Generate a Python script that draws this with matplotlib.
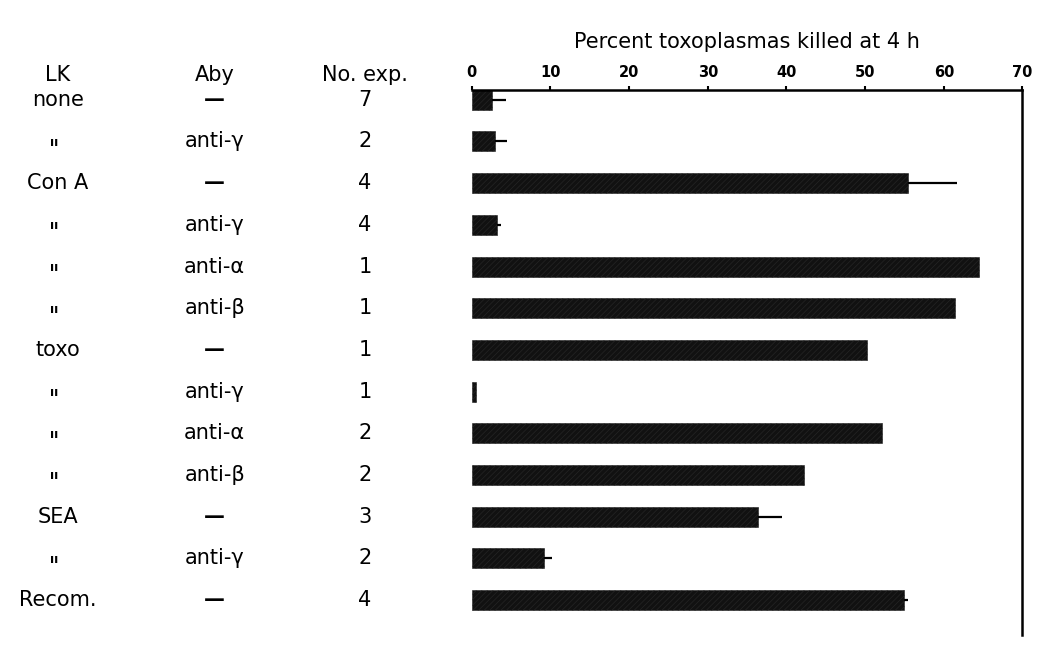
"""
Toxoplasma killing by lymphokine (LK) preparations, with/without antibody.
"""

import matplotlib
matplotlib.use("Agg")
import matplotlib.pyplot as plt
import matplotlib.transforms as mtransforms
import numpy as np

plt.rcParams.update({
    "font.family": "DejaVu Sans",
    "hatch.color": "#6a6a6a",
    "hatch.linewidth": 0.6,
})

# data
lk_labels = ["none", "ıı", "Con A", "ıı", "ıı", "ıı", "toxo",
             "ıı", "ıı", "ıı", "SEA", "ıı", "Recom."]
aby_labels = ["—", "anti-γ", "—", "anti-γ", "anti-α", "anti-β", "—",
              "anti-γ", "anti-α", "anti-β", "—", "anti-γ", "—"]
n_exp = [7, 2, 4, 4, 1, 1, 1, 1, 2, 2, 3, 2, 4]
pct_killed = [2.6, 2.9, 55.5, 3.2, 64.5, 61.4, 50.2, 0.5, 52.2, 42.2, 36.4, 9.2, 55.0]
err_upper = [1.8, 1.6, 6.2, 0.5, 0, 0, 0, 0, 0, 0, 3.0, 1.0, 0.5]

fig = plt.figure(figsize=(10.37, 6.46), dpi=100)
ax = fig.add_axes([0.455, 0.017, 0.531, 0.844])

rows = np.arange(len(pct_killed))
ax.barh(rows, pct_killed, height=0.48, color="#111111", hatch="//////",
        edgecolor="#222222", linewidth=0.4)
ax.errorbar(pct_killed, rows, xerr=[np.zeros(len(rows)), err_upper],
            fmt="none", ecolor="black", elinewidth=1.6, capsize=0)

ax.set_xlim(0, 70)
ax.set_ylim(12.84, -0.24)
ax.xaxis.tick_top()
ax.xaxis.set_label_position("top")
ax.set_xticks(range(0, 71, 10))
ax.tick_params(axis="x", direction="out", length=3, width=1.5, pad=4,
               labelsize=10.5)
for lbl in ax.get_xticklabels():
    lbl.set_fontweight("bold")
ax.set_yticks([])
ax.spines["left"].set_visible(False)
ax.spines["bottom"].set_visible(False)
ax.spines["top"].set_linewidth(1.8)
ax.spines["right"].set_linewidth(1.8)
ax.set_xlabel("Percent toxoplasmas killed at 4 h", fontsize=15, labelpad=12)

# table on the left
tr = mtransforms.blended_transform_factory(fig.transFigure, ax.transData)
header_y = -0.6
for x, h in [(0.056, "LK"), (0.207, "Aby"), (0.352, "No. exp.")]:
    ax.text(x, header_y, h, transform=tr, ha="center", va="center",
            fontsize=15, clip_on=False)

for i in rows:
    if lk_labels[i] == "ıı":
        ax.text(0.052, i + 0.02, lk_labels[i], transform=tr, ha="center",
                va="center", fontsize=9, fontweight="bold", clip_on=False)
    else:
        ax.text(0.056, i, lk_labels[i], transform=tr, ha="center",
                va="center", fontsize=15, clip_on=False)
    aby = aby_labels[i]
    ax.text(0.207, i, aby, transform=tr, ha="center", va="center",
            fontsize=15, fontweight="bold" if aby == "—" else "normal",
            clip_on=False)
    ax.text(0.352, i, str(n_exp[i]), transform=tr, ha="center",
            va="center", fontsize=15, clip_on=False)

fig.savefig("out.png", dpi=100)
